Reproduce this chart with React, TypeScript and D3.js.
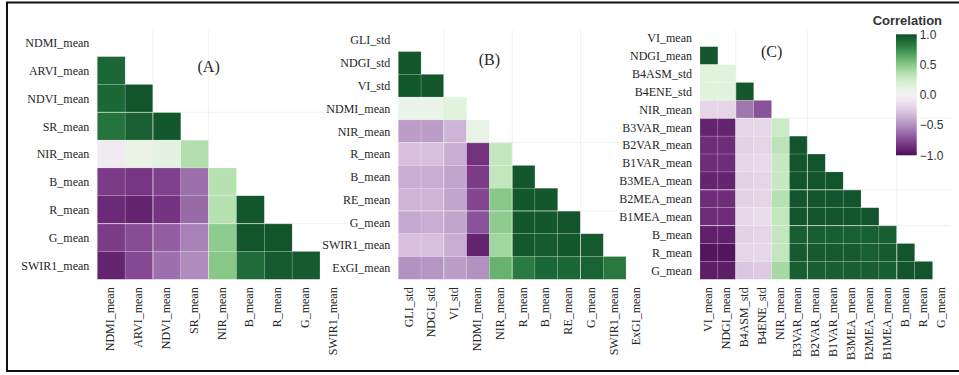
import * as d3 from 'd3';
import { useEffect, useRef } from 'react';

// panel (A)
const varsA = ['NDMI_mean', 'ARVI_mean', 'NDVI_mean', 'SR_mean', 'NIR_mean', 'B_mean', 'R_mean', 'G_mean', 'SWIR1_mean'];
const corrA = [
  [],
  [0.9],
  [0.9, 0.98],
  [0.85, 0.93, 0.97],
  [-0.06, 0.1, 0.13, 0.36],
  [-0.8, -0.82, -0.78, -0.62, 0.35],
  [-0.87, -0.9, -0.83, -0.64, 0.35, 0.97],
  [-0.8, -0.74, -0.68, -0.56, 0.48, 0.98, 0.98],
  [-0.9, -0.75, -0.62, -0.52, 0.5, 0.88, 0.95, 0.95],
];

// panel (B)
const varsB = ['GLI_std', 'NDGI_std', 'VI_std', 'NDMI_mean', 'NIR_mean', 'R_mean', 'B_mean', 'RE_mean', 'G_mean', 'SWIR1_mean', 'ExGI_mean'];
const corrB = [
  [],
  [0.97],
  [0.97, 0.97],
  [0.08, 0.08, 0.15],
  [-0.45, -0.45, -0.35, 0.1],
  [-0.3, -0.3, -0.38, -0.84, 0.3],
  [-0.38, -0.38, -0.42, -0.8, 0.3, 0.97],
  [-0.35, -0.35, -0.42, -0.76, 0.5, 0.97, 0.97],
  [-0.4, -0.38, -0.42, -0.72, 0.48, 0.97, 0.97, 0.98],
  [-0.3, -0.3, -0.38, -0.9, 0.42, 0.96, 0.95, 0.97, 0.95],
  [-0.5, -0.48, -0.45, -0.5, 0.6, 0.82, 0.9, 0.9, 0.92, 0.84],
];

// panel (C)
const varsC = ['VI_mean', 'NDGI_mean', 'B4ASM_std', 'B4ENE_std', 'NIR_mean', 'B3VAR_mean', 'B2VAR_mean', 'B1VAR_mean', 'B3MEA_mean', 'B2MEA_mean', 'B1MEA_mean', 'B_mean', 'R_mean', 'G_mean'];
const corrC = [
  [],
  [0.97],
  [0.15, 0.15],
  [0.15, 0.15, 0.97],
  [-0.2, -0.2, -0.6, -0.72],
  [-0.9, -0.9, -0.2, -0.18, 0.26],
  [-0.86, -0.86, -0.22, -0.2, 0.32, 0.98],
  [-0.86, -0.86, -0.2, -0.17, 0.28, 0.98, 0.98],
  [-0.9, -0.9, -0.22, -0.2, 0.28, 0.98, 0.98, 0.98],
  [-0.86, -0.86, -0.22, -0.2, 0.35, 0.98, 0.98, 0.98, 0.98],
  [-0.86, -0.86, -0.18, -0.16, 0.3, 0.98, 0.98, 0.98, 0.98, 0.98],
  [-0.92, -0.92, -0.22, -0.2, 0.3, 0.94, 0.94, 0.94, 0.93, 0.93, 0.94],
  [-0.97, -0.97, -0.2, -0.18, 0.3, 0.95, 0.95, 0.95, 0.95, 0.93, 0.95, 0.98],
  [-0.93, -0.93, -0.27, -0.25, 0.4, 0.94, 0.94, 0.94, 0.94, 0.94, 0.94, 0.98, 0.98],
];

const panelTitles = ['(A)', '(B)', '(C)'];
const legendTicks = [-1, -0.5, 0, 0.5, 1];

const panels = [
  { vars: varsA, corr: corrA, title: panelTitles[0], x0: 97.3, gridX: [2, 4], gridY: [3, 7] },
  { vars: varsB, corr: corrB, title: panelTitles[1], x0: 398.3, gridX: [2, 5, 8], gridY: [5, 8] },
  { vars: varsC, corr: corrC, title: panelTitles[2], x0: 700, gridX: [2, 6, 11], gridY: [5, 9, 11] },
];

const W = 959;
const H = 375;
const SIZE = 250.5;
const TOP = 28.8;
const SERIF = '"Liberation Serif", "Times New Roman", serif';
const SANS = '"Liberation Sans", Arial, sans-serif';
const CELL_ALPHA = 0.94;

const color = (v: number) => d3.interpolatePRGn((v + 1) / 2);

const App = () => {
  const svgRef = useRef<SVGSVGElement>(null);

  useEffect(() => {
    const svg = d3.select(svgRef.current);
    svg.selectAll('*').remove();

    svg.append('rect').attr('width', W).attr('height', H).attr('fill', '#fff');

    panels.forEach((p) => {
      const n = p.vars.length;
      const x = d3.scaleBand<string>().domain(p.vars).range([p.x0, p.x0 + SIZE]);
      const y = d3.scaleBand<string>().domain(p.vars).range([TOP, TOP + SIZE]);
      const xi = d3.scaleLinear([0, n], [p.x0, p.x0 + SIZE]);
      const yi = d3.scaleLinear([0, n], [TOP, TOP + SIZE]);
      const g = svg.append('g');

      const cells = p.corr.flatMap((row, i) => row.map((v, j) => ({ r: p.vars[i], c: p.vars[j], v })));
      g.selectAll('rect.cell')
        .data(cells)
        .join('rect')
        .attr('class', 'cell')
        .attr('x', (d) => x(d.c)!)
        .attr('y', (d) => y(d.r)!)
        .attr('width', x.bandwidth())
        .attr('height', y.bandwidth())
        .attr('fill', (d) => color(d.v))
        .attr('fill-opacity', CELL_ALPHA)
        .attr('stroke', '#fff')
        .attr('stroke-opacity', 0.3)
        .attr('stroke-width', 0.5);

      // faint grid lines over the axes
      g.selectAll('line.gx')
        .data(p.gridX)
        .join('line')
        .attr('x1', (d) => xi(d))
        .attr('x2', (d) => xi(d))
        .attr('y1', TOP)
        .attr('y2', TOP + SIZE)
        .attr('stroke', '#eaeaea')
        .attr('stroke-opacity', 0.6);
      g.selectAll('line.gy')
        .data(p.gridY)
        .join('line')
        .attr('y1', (d) => yi(d))
        .attr('y2', (d) => yi(d))
        .attr('x1', p.x0)
        .attr('x2', p.x0 + SIZE)
        .attr('stroke', '#eaeaea')
        .attr('stroke-opacity', 0.6);

      // y labels
      g.selectAll('text.yl')
        .data(p.vars)
        .join('text')
        .attr('x', p.x0 - 8)
        .attr('y', (d) => y(d)! + y.bandwidth() / 2 + 4.3)
        .attr('text-anchor', 'end')
        .attr('font-family', SERIF)
        .attr('font-size', 12)
        .attr('fill', '#262626')
        .text((d) => d);

      // x labels
      g.selectAll('text.xl')
        .data(p.vars)
        .join('text')
        .attr('transform', (d) => `translate(${x(d)! + x.bandwidth() / 2 + 3},${TOP + SIZE + 8}) rotate(-90)`)
        .attr('text-anchor', 'end')
        .attr('font-family', SERIF)
        .attr('font-size', 12)
        .attr('fill', '#262626')
        .text((d) => d);

      g.append('text')
        .attr('x', xi(4))
        .attr('y', yi(1.57))
        .attr('text-anchor', 'middle')
        .attr('font-family', SERIF)
        .attr('font-size', 16)
        .attr('fill', '#262626')
        .text(p.title);
    });

    // colour bar
    const cb = { x: 896, w: 20.7, y0: 34.3, y1: 155.3 };
    const cy = d3.scaleLinear([-1, 1], [cb.y1, cb.y0]);
    const grad = svg.append('defs').append('linearGradient').attr('id', 'cbar').attr('x1', 0).attr('x2', 0).attr('y1', 1).attr('y2', 0);
    d3.range(0, 1.0001, 0.05).forEach((t) => {
      grad.append('stop').attr('offset', t).attr('stop-color', d3.interpolatePRGn(t));
    });
    svg.append('rect')
      .attr('x', cb.x)
      .attr('y', cb.y0)
      .attr('width', cb.w)
      .attr('height', cb.y1 - cb.y0)
      .attr('fill', 'url(#cbar)')
      .attr('fill-opacity', CELL_ALPHA);
    svg.append('g')
      .attr('transform', `translate(${cb.x + cb.w},0)`)
      .call(d3.axisRight(cy).tickValues(legendTicks).tickFormat(d3.format('.1f')).tickSize(0).tickPadding(3))
      .call((a) => a.select('.domain').remove())
      .call((a) => a.selectAll('text').attr('font-family', SANS).attr('font-size', 12).attr('fill', '#333'));
    svg.append('text')
      .attr('x', cb.x + cb.w / 2 + 1)
      .attr('y', 25)
      .attr('text-anchor', 'middle')
      .attr('font-family', SANS)
      .attr('font-weight', 'bold')
      .attr('font-size', 13)
      .attr('fill', '#333')
      .text('Correlation');

    // frame
    svg.append('path')
      .attr('d', `M${W + 5},2.5 H7 V371 H${W + 5}`)
      .attr('fill', 'none')
      .attr('stroke', '#111')
      .attr('stroke-width', 2);
  }, []);

  return <svg ref={svgRef} width={W} height={H} style={{ position: 'absolute', left: 0, top: 0 }} />;
};

export default App;
